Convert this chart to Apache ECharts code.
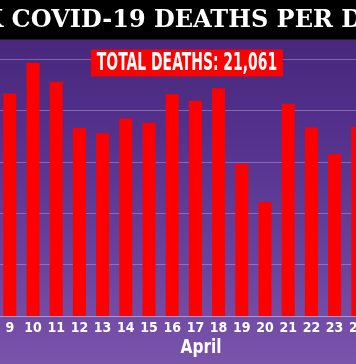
<!DOCTYPE html>
<html>
<head>
<meta charset="utf-8">
<style>
html,body{margin:0;padding:0;background:#000;}
#chart{width:356px;height:364px;}
</style>
<script src="https://cdn.jsdelivr.net/npm/echarts@6/dist/echarts.min.js"></script>
</head>
<body>
<div id="chart"></div>
<script>
var days = ['9','10','11','12','13','14','15','16','17','18','19','20','21','22','23','24'];
var deaths = [867, 987, 913, 732, 712, 769, 753, 864, 839, 887, 593, 444, 827, 734, 630, 737];
var yTicks = [0, 200, 400, 600, 800, 1000];
var titleText = 'UK COVID-19 DEATHS PER DAY';
var totalText = 'TOTAL DEATHS: 21,061';
var monthText = 'April';

var chart = echarts.init(document.getElementById('chart'), null, {renderer: 'canvas'});
var condensed = '"DejaVu Sans Condensed", "Liberation Sans Narrow", sans-serif';
chart.setOption({
  animation: false,
  backgroundColor: {
    type: 'linear', x: 0, y: 0, x2: 0, y2: 1,
    colorStops: [
      {offset: 0, color: '#432474'},
      {offset: 0.35, color: '#52308c'},
      {offset: 1, color: '#7a53ab'}
    ]
  },
  grid: {left: -1.8, width: 371.2, top: 59.3, height: 256.7, containLabel: false, outerBoundsMode: 'none'},
  xAxis: {
    type: 'category',
    data: days,
    axisLine: {show: true, lineStyle: {color: '#a898cc', width: 1}},
    axisTick: {show: false},
    axisLabel: {
      color: '#ffffff', fontFamily: condensed, fontWeight: 'bold', fontSize: 14,
      margin: 5, interval: 0
    }
  },
  yAxis: {
    type: 'value',
    min: yTicks[0], max: yTicks[yTicks.length - 1], interval: yTicks[1] - yTicks[0],
    axisLine: {show: false}, axisTick: {show: false}, axisLabel: {show: false},
    splitLine: {show: true, lineStyle: {color: 'rgba(185,170,220,0.45)', width: 1}}
  },
  series: [{
    type: 'bar',
    data: deaths,
    barWidth: 13,
    itemStyle: {color: '#ff0000'}
  }],
  graphic: [
    {type: 'rect', left: 0, top: 0, shape: {width: 356, height: 39.5}, style: {fill: '#000000'}, z: 10},
    {type: 'text', x: 179, y: 21, z: 11,
      style: {text: titleText, fill: '#ffffff', font: 'bold 24px "DejaVu Serif", serif',
        textAlign: 'center', textVerticalAlign: 'middle'}},
    {type: 'rect', shape: {x: 91, y: 49.5, width: 192, height: 27, r: 1}, style: {fill: '#ff0000'}, z: 10},
    {type: 'text', x: 187, y: 63.5, z: 11, scaleX: 0.62, originX: 0, originY: 0,
      style: {text: totalText, fill: '#ffffff', font: 'bold 25px ' + condensed,
        textAlign: 'center', textVerticalAlign: 'middle'}},
    {type: 'text', x: 201, y: 348, z: 11, scaleX: 0.9, originX: 0, originY: 0,
      style: {text: monthText, fill: '#ffffff', font: 'bold 19px ' + condensed,
        textAlign: 'center', textVerticalAlign: 'middle'}}
  ]
});
</script>
</body>
</html>
